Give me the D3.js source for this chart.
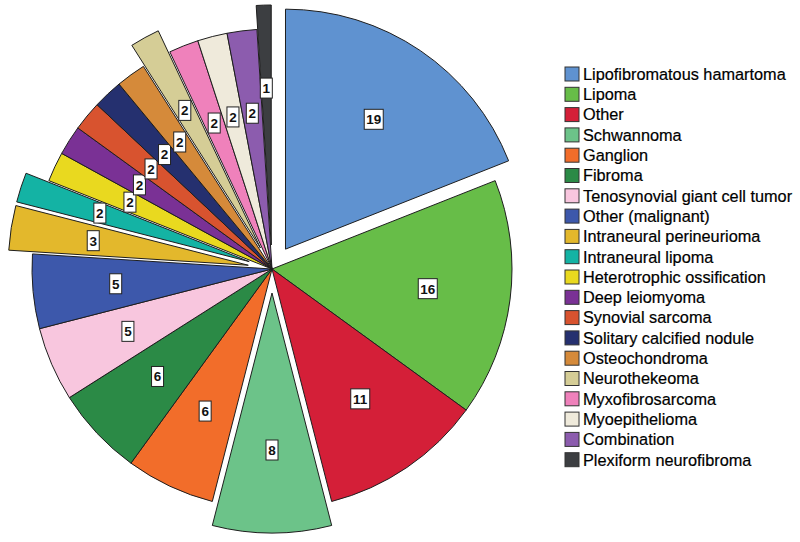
<!DOCTYPE html>
<html>
<head>
<meta charset="utf-8">
<script src="https://cdn.jsdelivr.net/npm/d3@7"></script>
<style>
  html, body { margin: 0; padding: 0; background: #fff; }
  svg { display: block; }
</style>
</head>
<body>
<svg id="chart" width="800" height="542"></svg>
<script>
const categories = [
  "Lipofibromatous hamartoma", "Lipoma", "Other", "Schwannoma", "Ganglion",
  "Fibroma", "Tenosynovial giant cell tumor", "Other (malignant)",
  "Intraneural perineurioma", "Intraneural lipoma", "Heterotrophic ossification",
  "Deep leiomyoma", "Synovial sarcoma", "Solitary calcified nodule",
  "Osteochondroma", "Neurothekeoma", "Myxofibrosarcoma", "Myoepithelioma",
  "Combination", "Plexiform neurofibroma"
];
const values = [19, 16, 11, 8, 6, 6, 5, 5, 3, 2, 2, 2, 2, 2, 2, 2, 2, 2, 2, 1];
const colors = [
  "#5f92d0", "#67bd48", "#d41f38", "#6cc389", "#f26d2a",
  "#2b8a46", "#f8c6de", "#3d58ab", "#e3b82c", "#14b3a4",
  "#e9d91f", "#7a3195", "#d8532f", "#25306f", "#d58a3a",
  "#d5cd96", "#ef81bb", "#efeadb", "#8c5cae", "#3c3e41"
];
const explodedCategories = [
  "Lipofibromatous hamartoma", "Schwannoma", "Intraneural perineurioma",
  "Intraneural lipoma", "Neurothekeoma", "Plexiform neurofibroma"
];

const data = categories.map((c, i) => ({ name: c, value: values[i], color: colors[i] }));

const svg = d3.select("#chart");
const cx = 272, cy = 269, R = 240, explode = 24, labelR = 157;

const pie = d3.pie().sort(null).value(d => d.value).startAngle(0).endAngle(2 * Math.PI);
const arcs = pie(data);
const arc = d3.arc().innerRadius(0).outerRadius(R);
const labelArc = d3.arc().innerRadius(labelR).outerRadius(labelR);

const g = svg.append("g").attr("transform", `translate(${cx},${cy})`);

function offset(d) {
  if (!explodedCategories.includes(d.data.name)) return [0, 0];
  const mid = (d.startAngle + d.endAngle) / 2;
  return [Math.sin(mid) * explode, -Math.cos(mid) * explode];
}

const slices = g.selectAll("g.slice").data(arcs).join("g")
  .attr("class", "slice")
  .attr("transform", d => { const o = offset(d); return `translate(${o[0]},${o[1]})`; });

slices.append("path")
  .attr("d", arc)
  .attr("fill", d => d.data.color)
  .attr("stroke", "#1e1e1e")
  .attr("stroke-width", 1)
  .attr("stroke-linejoin", "round");

const labels = slices.append("g")
  .attr("transform", d => { const p = labelArc.centroid(d); return `translate(${p[0]},${p[1]})`; });

labels.each(function(d) {
  const s = String(d.data.value);
  const w = s.length > 1 ? 19 : 12;
  const sel = d3.select(this);
  sel.append("rect")
    .attr("x", -w / 2).attr("y", -10).attr("width", w).attr("height", 20)
    .attr("fill", "#fff").attr("stroke", "#222").attr("stroke-width", 1);
  sel.append("text")
    .attr("text-anchor", "middle").attr("dy", "0.36em")
    .attr("font-family", "Liberation Sans, Arial, sans-serif")
    .attr("font-weight", "bold").attr("font-size", 13.5)
    .attr("fill", "#111")
    .text(s);
});

// Legend
const legend = svg.append("g").attr("transform", "translate(565,74)");
const rowH = 20.3;
const items = legend.selectAll("g").data(data).join("g")
  .attr("transform", (d, i) => `translate(0,${i * rowH})`);
items.append("rect")
  .attr("x", 0).attr("y", -7).attr("width", 14).attr("height", 14)
  .attr("fill", d => d.color).attr("stroke", "#333").attr("stroke-width", 1);
items.append("text")
  .attr("x", 18).attr("dy", "0.36em")
  .attr("font-family", "Liberation Sans, Arial, sans-serif")
  .attr("font-size", 16.3).attr("fill", "#000")
  .attr("stroke", "#000").attr("stroke-width", 0.2)
  .text(d => d.name);
</script>
</body>
</html>
